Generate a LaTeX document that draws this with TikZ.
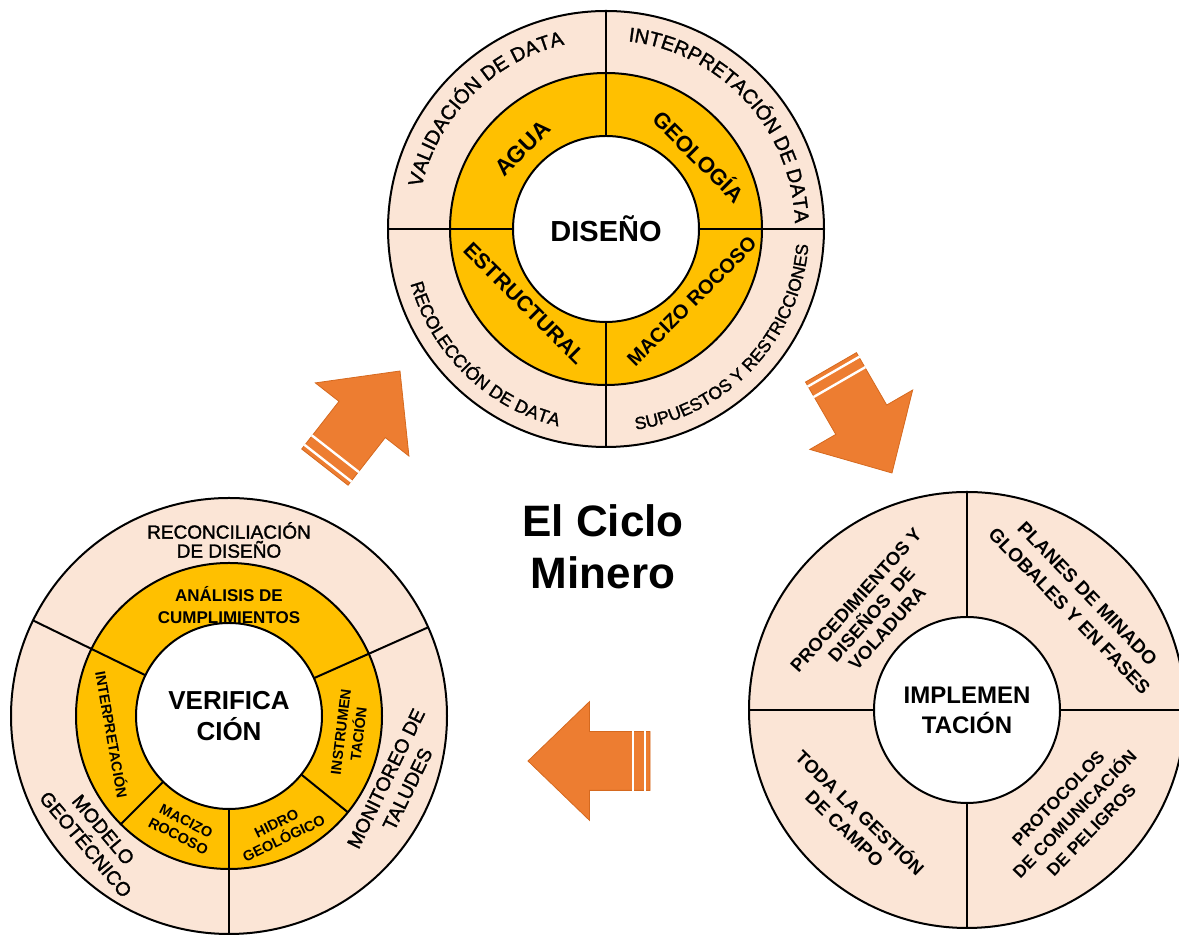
\documentclass[tikz,border=0pt]{standalone}
\usepackage{fontspec}
\setmainfont{Liberation Sans}
\newfontfamily\medio[FakeBold=1.5]{Liberation Sans}
\usetikzlibrary{calc,shapes.arrows,decorations.text}

\definecolor{anillo}{HTML}{FBE5D6}
\definecolor{amarillo}{HTML}{FFC000}
\definecolor{naranja}{HTML}{ED7D31}
\definecolor{naranjaosc}{HTML}{D5691F}

\begin{document}
\begin{tikzpicture}[x=1pt, y=1pt]
		\def\rout{218}
		\def\rmid{156}
		\def\rin{93}

		\tikzset{
			basic/.style={circle, draw=black, line width=2pt, inner sep=0pt, outer sep=0pt},
			outring/.style={basic, fill=anillo, minimum size=2*\rout},
			midring/.style={basic, fill=amarillo, minimum size=2*\rmid},
			hub/.style={basic, fill=white, minimum size=2*\rin, align=center},
			divider/.style={line width=2pt},
			btxt/.style n args={2}{align=center, inner sep=0pt, font=\bfseries\fontsize{#1}{#2}\selectfont},
			rtxt/.style n args={2}{align=center, inner sep=0pt, font=\medio\fontsize{#1}{#2}\selectfont},
			flecha/.style={single arrow, fill=naranja, draw=naranjaosc, line width=0.8pt,
				minimum height=122, inner xsep=0pt, inner ysep=29pt,
				single arrow head extend=30, single arrow tip angle=88, outer sep=0pt},
			franja/.style={white, line width=2.4pt}
		}

		\useasboundingbox (0,0) rectangle (1179,936);

		% DISENO (top)

		\node[outring] (dis-out) at (606,707) {};
		\node[midring] (dis-mid) at (dis-out.center) {};
		\node[hub, font=\bfseries\fontsize{29}{34}\selectfont] (dis-in) at (dis-out.center) {DISEÑO};
		\foreach \a in {0,90,180,270}
			\draw[divider] (dis-in.\a) -- (dis-out.\a);

		\path[decorate, decoration={text along path, text align=center,
			text={|\medio\fontsize{20}{20}\selectfont|VALIDACIÓN DE DATA}}]
			($(dis-out.center)+(178:189)$) arc[start angle=178, end angle=92, radius=189];
		\path[decorate, decoration={text along path, text align=center,
			text={|\medio\fontsize{20}{20}\selectfont|INTERPRETACIÓN DE DATA}}]
			($(dis-out.center)+(87:189)$) arc[start angle=87, end angle=-2, radius=189];
		\path[decorate, decoration={text along path, text align=center,
			text={|\medio\fontsize{18}{18}\selectfont|RECOLECCIÓN DE DATA}}]
			($(dis-out.center)+(183:203)$) arc[start angle=183, end angle=269, radius=203];
		\path[decorate, decoration={text along path, text align=center,
			text={|\medio\fontsize{17.5}{17.5}\selectfont|SUPUESTOS Y RESTRICCIONES}}]
			($(dis-out.center)+(273:203)$) arc[start angle=273, end angle=361, radius=203];

		\node[btxt={23}{26}, rotate=45] (dis-agua) at ($(dis-out.center)+(136:116)$) {AGUA};
		\node[btxt={22}{26}, rotate=-45] (dis-geo) at ($(dis-out.center)+(38:119)$) {GEOLOGÍA};
		\node[btxt={21.5}{26}, rotate=-45] (dis-est) at ($(dis-out.center)+(222.5:110)$) {ESTRUCTURAL};
		\node[btxt={20}{26}, rotate=45] (dis-mac) at ($(dis-out.center)+(320:112)$) {MACIZO ROCOSO};

		% VERIFICACION (left)

		\node[outring] (ver-out) at (229,220) {};
		\node[midring, minimum size=306] (ver-mid) at (ver-out.center) {};
		\node[hub, font=\bfseries\fontsize{26}{31}\selectfont] (ver-in) at (ver-out.center) {VERIFICA\\CIÓN};
		\foreach \a in {154,24,270}
			\draw[divider] (ver-in.\a) -- (ver-out.\a);
		\foreach \a in {225,321}
			\draw[divider] (ver-in.\a) -- (ver-mid.\a);

		\node[rtxt={19}{19}] (ver-rec) at ($(ver-out.center)+(90:176)$) {RECONCILIACIÓN\\DE DISEÑO};
		\node[rtxt={19.5}{23}, rotate=-50] (ver-mod) at ($(ver-out.center)+(222:181)$) {MODELO\\GEOTÉCNICO};
		\node[rtxt={19.5}{24}, rotate=64] (ver-mon) at ($(ver-out.center)+(338:181)$) {MONITOREO DE\\TALUDES};
		\node[btxt={17}{22}] (ver-ana) at ($(ver-out.center)+(90:111)$) {ANÁLISIS DE\\CUMPLIMIENTOS};
		\node[btxt={14.5}{17}, rotate=-80] (ver-int) at ($(ver-out.center)+(189:118)$) {INTERPRETACIÓN};
		\node[btxt={14.5}{18}, rotate=83] (ver-ins) at ($(ver-out.center)+(352:122)$) {INSTRUMEN\\TACIÓN};
		\node[btxt={14.5}{17}, rotate=-27] (ver-mac) at ($(ver-out.center)+(247.5:122)$) {MACIZO\\ROCOSO};
		\node[btxt={14.5}{17}, rotate=26] (ver-hid) at ($(ver-out.center)+(294:126)$) {HIDRO\\GEOLÓGICO};

		% IMPLEMENTACION (right)

		\node[outring] (imp-out) at (967,226) {};
		\node[hub, font=\bfseries\fontsize{24}{30}\selectfont] (imp-in) at (imp-out.center) {IMPLEMEN\\TACIÓN};
		\foreach \a in {0,90,180,270}
			\draw[divider] (imp-in.\a) -- (imp-out.\a);

		\node[btxt={18.5}{21}, rotate=48] (imp-pro) at ($(imp-out.center)+(135:135)$) {PROCEDIMIENTOS Y\\DISEÑOS~~DE\\VOLADURA};
		\node[btxt={19}{25}, rotate=-46] (imp-pla) at ($(imp-out.center)+(44:155)$) {PLANES DE MINADO\\GLOBALES Y EN FASES};
		\node[btxt={18.5}{22}, rotate=-44] (imp-tod) at ($(imp-out.center)+(224:158)$) {TODA LA GESTIÓN\\DE CAMPO};
		\node[btxt={17.5}{23}, rotate=46] (imp-ptc) at ($(imp-out.center)+(316:150)$) {PROTOCOLOS\\DE COMUNICACIÓN\\DE PELIGROS};

		% title

		\node[btxt={44}{52}] (titulo) at (603,389) {El Ciclo\\Minero};

		% cycle arrows

		\node[flecha, rotate=52, anchor=tip] (f1) at (400,565) {};
		\node[flecha, rotate=-60, anchor=tip] (f2) at (892,463) {};
		\node[flecha, rotate=180, anchor=tip] (f3) at (528,175) {};
		\foreach \f in {f1,f2,f3}{
			\foreach \d in {5,17}{
				\coordinate (m) at ($(\f.tail)!\d pt!(\f.tip)$);
				\draw[franja] ($(m)!30pt!90:(\f.tip)$) -- ($(m)!30pt!-90:(\f.tip)$);
			}
		}
\end{tikzpicture}
\end{document}
